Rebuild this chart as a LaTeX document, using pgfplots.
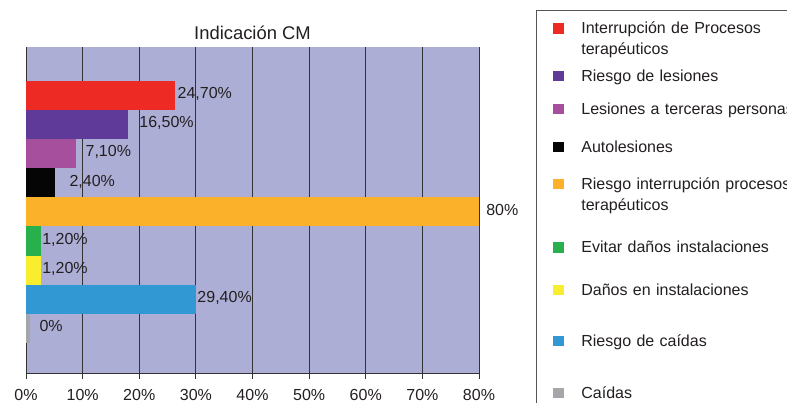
\documentclass[border=0pt]{standalone}
\usepackage{pgfplots}
\pgfplotsset{compat=1.18}
\usepackage{fontspec}
\setmainfont{Liberation Sans}
\definecolor{cRed}{HTML}{EE2A24}
\definecolor{cPurple}{HTML}{5F3A98}
\definecolor{cPink}{HTML}{A54F9D}
\definecolor{cBlack}{HTML}{050505}
\definecolor{cOrange}{HTML}{FBB12A}
\definecolor{cGreen}{HTML}{27B04B}
\definecolor{cYellow}{HTML}{F9EE2D}
\definecolor{cBlue}{HTML}{3198D3}
\definecolor{cGray}{HTML}{A5A6AA}
\definecolor{bgLav}{HTML}{ADAED6}
\definecolor{txt}{HTML}{231F20}
\definecolor{gridc}{HTML}{333333}
\definecolor{framec}{HTML}{555555}
\pgfplotsset{
  bstyle/.style={xbar, bar width=1, bar shift=0pt, draw=none, fill=#1,
    legend image code/.code={\fill[#1] (0pt,0.15pt) rectangle (10.7pt,10.85pt);}},
}
\begin{document}
\begin{tikzpicture}[font=\fontsize{16}{19}\selectfont, text=txt]
\useasboundingbox (-26pt,-30pt) rectangle (761pt,373pt);
\begin{axis}[
  at={(0pt,0pt)}, anchor=south west,
  scale only axis, width=453pt, height=326pt,
  xmin=0, xmax=80, ymin=-0.527, ymax=10.657,
  axis background/.style={fill=bgLav},
  axis x line*=bottom, axis y line*=left,
  axis line style={draw=gridc, line width=0.8pt, -},
  xtick={0,10,...,80},
  xticklabels={0\%,10\%,20\%,30\%,40\%,50\%,60\%,70\%,80\%},
  ytick=\empty,
  xmajorgrids, major grid style={draw=gridc, line width=0.8pt},
  tick align=outside, major tick length=6pt,
  tick style={draw=gridc, line width=0.8pt},
  xticklabel style={anchor=base, yshift=-21.3pt, text=txt, font=\fontsize{16}{19}\selectfont},
  title={Indicación CM},
  title style={at={(0.5,1)}, anchor=base, yshift=1.7pt, text=txt, font=\fontsize{18.4}{22}\selectfont},
  clip=false,
  legend style={at={(1.1258,1.1144)}, anchor=north west, draw=framec, line width=0.8pt,
    inner xsep=16.7pt, inner ysep=0pt, column sep=17.6pt, row sep=0pt, fill=white,
    cells={anchor=base west},
    nodes={inner sep=0pt, text width=240pt, align=left, text=txt, font=\fontsize{16}{21}\selectfont}},
  legend cell align=left,
]
\addplot[bstyle=cRed] coordinates {(26.31,9)};
\addlegendentry[anchor=base west, text height=23.6pt, text depth=33.7pt]{Interrupción de Procesos\\terapéuticos}
\addplot[bstyle=cPurple] coordinates {(18.01,8)};
\addlegendentry[anchor=base west, text height=14pt, text depth=19pt]{Riesgo de lesiones}
\addplot[bstyle=cPink] coordinates {(8.83,7)};
\addlegendentry[anchor=base west, text height=14pt, text depth=24pt]{Lesiones a terceras personas}
\addplot[bstyle=cBlack] coordinates {(5.12,6)};
\addlegendentry[anchor=base west, text height=14pt, text depth=23pt]{Autolesiones}
\addplot[bstyle=cOrange] coordinates {(80,5)};
\addlegendentry[anchor=base west, text height=14pt, text depth=49.3pt]{Riesgo interrupción procesos\\terapéuticos}
\addplot[bstyle=cGreen] coordinates {(2.65,4)};
\addlegendentry[anchor=base west, text height=14pt, text depth=28.7pt]{Evitar daños instalaciones}
\addplot[bstyle=cYellow] coordinates {(2.65,3)};
\addlegendentry[anchor=base west, text height=14pt, text depth=37pt]{Daños en instalaciones}
\addplot[bstyle=cBlue] coordinates {(29.96,2)};
\addlegendentry[anchor=base west, text height=14pt, text depth=38pt]{Riesgo de caídas}
\addplot[bstyle=cGray] coordinates {(0.71,1)};
\addlegendentry[anchor=base west, text height=14pt, text depth=20pt]{Caídas}
\addplot[forget plot, draw=none, nodes near coords, point meta=explicit symbolic,
  nodes near coords style={anchor=base west, inner sep=0pt, yshift=-3.4pt, text=txt, font=\fontsize{16}{19}\selectfont}]
  table[meta=lab, row sep=\\] {
  x y lab \\
  26.75 9 {24,70\%} \\
  20.0 8 {16,50\%} \\
  10.5 7 {7,10\%} \\
  7.65 6 {2,40\%} \\
  81.25 5 {80\%} \\
  2.85 4 {1,20\%} \\
  2.85 3 {1,20\%} \\
  30.25 2 {29,40\%} \\
  2.35 1 {0\%} \\
};
\end{axis}
\end{tikzpicture}
\end{document}
